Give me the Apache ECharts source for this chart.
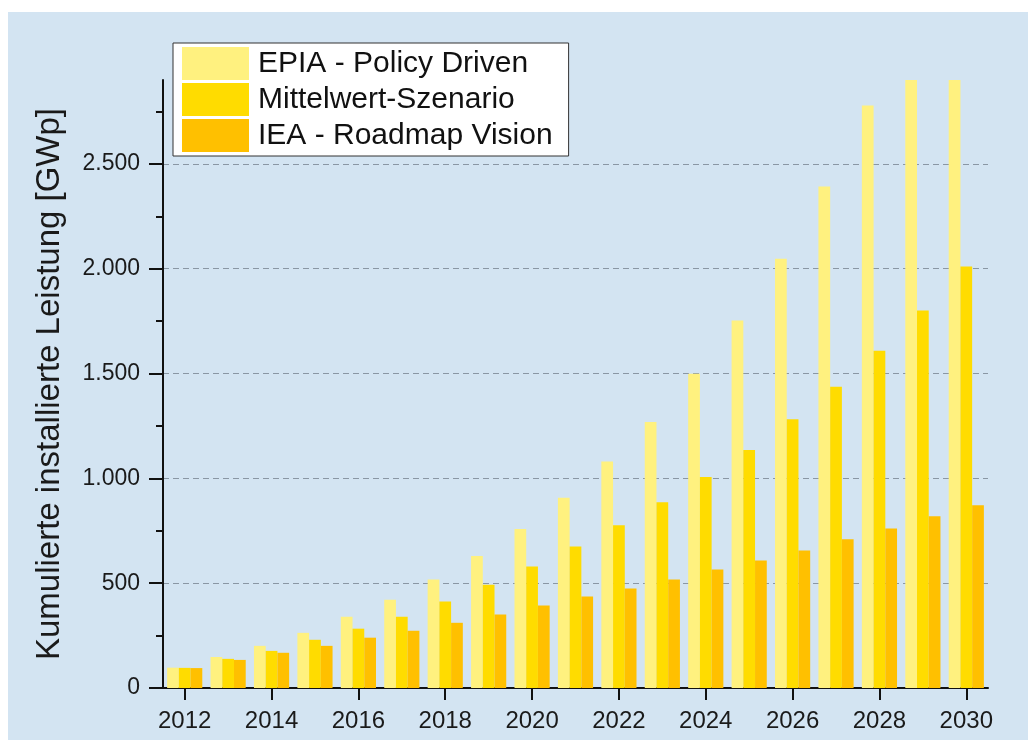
<!DOCTYPE html>
<html>
<head>
<meta charset="utf-8">
<script src="https://cdn.jsdelivr.net/npm/echarts@6/dist/echarts.min.js"></script>
<style>
  html, body { margin: 0; padding: 0; background: #ffffff; width: 1028px; height: 740px; overflow: hidden; }
  #chart { position: absolute; left: 8px; top: 12px; width: 1020px; height: 728px; }
</style>
</head>
<body>
<div id="chart"></div>
<script>
const years = ['2012','2013','2014','2015','2016','2017','2018','2019','2020','2021','2022','2023','2024','2025','2026','2027','2028','2029','2030'];
const epiaPolicy = [97,148,201,263,340,421,517,630,758,908,1080,1269,1499,1753,2048,2392,2778,2902,2902];
const mittelwert = [96,139,177,230,283,340,412,493,580,675,776,886,1006,1135,1282,1437,1609,1801,2011];
const ieaRoadmap = [95,134,168,201,240,273,311,350,393,436,474,517,565,608,656,709,761,819,872];
const seriesNames = ['EPIA - Policy Driven','Mittelwert-Szenario','IEA - Roadmap Vision'];
const majorTicks = [0,500,1000,1500,2000,2500];
const minorTicks = [250,750,1250,1750,2250,2750];
const yMax = 2900;

const font = '"Liberation Sans", Arial, sans-serif';
const fmt = v => String(v).replace(/\B(?=(\d{3})+(?!\d))/g, '.');

const chart = echarts.init(document.getElementById('chart'), null, { renderer: 'canvas' });
chart.setOption({
  backgroundColor: '#d3e4f2',
  animation: false,
  color: ['#fff17f', '#ffdc00', '#ffc000'],
  legend: {
    data: seriesNames,
    orient: 'vertical',
    left: 165,
    top: 31,
    icon: 'rect',
    itemWidth: 67,
    itemHeight: 33,
    itemGap: 3,
    padding: [4, 16, 4, 9],
    backgroundColor: '#ffffff',
    borderColor: '#333333',
    borderWidth: 1,
    selectedMode: false,
    textStyle: { fontFamily: font, fontSize: 30, color: '#111', padding: [0, 0, 0, 4] }
  },
  grid: { left: 155, right: 40, top: 68, bottom: 52, containLabel: false },
  xAxis: {
    type: 'category',
    data: years,
    boundaryGap: true,
    axisLine: { show: true, lineStyle: { color: '#111', width: 2 } },
    axisTick: { show: true, interval: 1, alignWithLabel: true, length: 12, lineStyle: { color: '#111', width: 2 } },
    axisLabel: { interval: 1, margin: 21, fontFamily: font, fontSize: 24, color: '#1a1a1a' },
    splitLine: { show: false }
  },
  yAxis: [
    {
      type: 'value',
      min: 0,
      max: yMax,
      name: 'Kumulierte installierte Leistung [GWp]',
      nameLocation: 'middle',
      nameGap: 97,
      nameTextStyle: { fontFamily: font, fontSize: 33, color: '#1a1a1a' },
      axisLine: { show: true, lineStyle: { color: '#111', width: 2 } },
      axisTick: { show: true, customValues: majorTicks, length: 14, lineStyle: { color: '#111', width: 2 } },
      axisLabel: { customValues: majorTicks, margin: 23, fontFamily: font, fontSize: 23, color: '#1a1a1a', formatter: fmt },
      splitLine: { show: true, showMinLine: false, lineStyle: { color: '#8a97a4', width: 1, type: [6, 4] } }
    },
    {
      type: 'value',
      min: 0,
      max: yMax,
      position: 'left',
      axisLine: { show: false },
      axisTick: { show: true, customValues: minorTicks, length: 7, lineStyle: { color: '#111', width: 2 } },
      axisLabel: { show: false },
      splitLine: { show: false }
    }
  ],
  series: [
    { name: seriesNames[0], type: 'bar', data: epiaPolicy, barGap: '0%', barCategoryGap: '19%' },
    { name: seriesNames[1], type: 'bar', data: mittelwert, barGap: '0%', barCategoryGap: '19%' },
    { name: seriesNames[2], type: 'bar', data: ieaRoadmap, barGap: '0%', barCategoryGap: '19%' }
  ]
});
</script>
</body>
</html>
